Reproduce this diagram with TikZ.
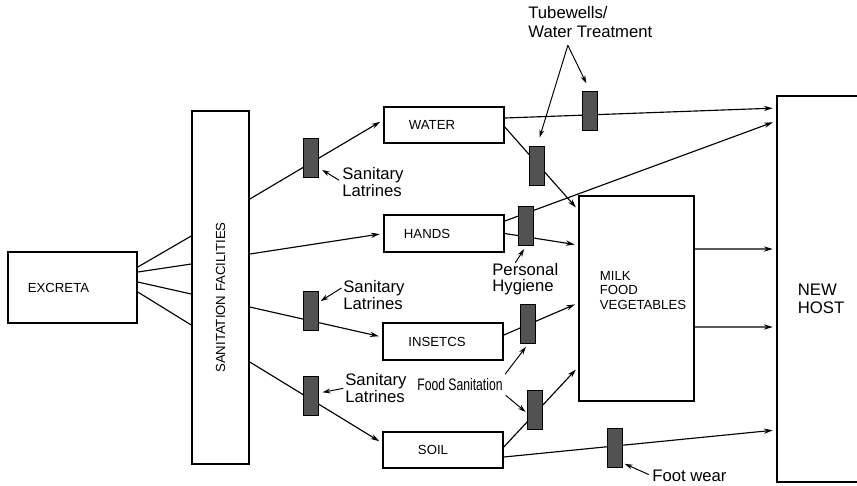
\documentclass[tikz,border=0pt]{standalone}
\usepackage{fontspec}
\setmainfont{Liberation Sans}
\usetikzlibrary{arrows.meta}

\tikzset{
  box/.style={draw, line width=0.9pt, inner sep=0pt},
  lbl/.style={font=\fontsize{7.5}{8.2}\selectfont, inner sep=0pt, align=left},
  gate/.style={draw, line width=0.7pt, fill=black!68, minimum width=0.3cm, minimum height=0.78cm, inner sep=0pt},
  flow/.style={-{Stealth[length=5pt,width=3pt]}, line width=0.65pt, shorten >=2pt},
  ptr/.style={-{Stealth[length=4.5pt,width=2.8pt]}, line width=0.55pt},
  note/.style={font=\fontsize{9.5}{9.2}\selectfont, align=left, inner sep=0pt},
}

\begin{document}
\begin{tikzpicture}[x=0.02cm, y=-0.02cm]
\useasboundingbox (0,0) rectangle (857,485);

% boxes
\node[box, minimum width=2.58cm, minimum height=1.42cm, label={[lbl,xshift=-0.28cm]center:EXCRETA}] (excreta) at (72.5,287.5) {};
\node[box, lbl, minimum width=1.14cm, minimum height=7.06cm] (sanit) at (220.5,287.5) {\rotatebox{90}{SANITATION FACILITIES\hspace*{0.4cm}}};
\node[box, minimum width=2.4cm, minimum height=0.72cm, label={[lbl,xshift=-0.24cm]center:WATER}] (water) at (444,125) {};
\node[box, minimum width=2.4cm, minimum height=0.74cm, label={[lbl,xshift=-0.34cm]center:HANDS}] (hands) at (444,233.5) {};
\node[box, minimum width=2.4cm, minimum height=0.74cm, label={[lbl,xshift=-0.12cm]center:INSETCS}] (insects) at (443,341.5) {};
\node[box, minimum width=2.4cm, minimum height=0.72cm, label={[lbl,xshift=-0.2cm]center:SOIL}] (soil) at (443,450) {};
\node[box, minimum width=2.3cm, minimum height=4.1cm, label={[lbl,xshift=0.13cm,yshift=0.16cm]center:MILK\\FOOD\\VEGETABLES}] (milk) at (636.5,298.5) {};
\node[box, minimum width=1.86cm, minimum height=7.72cm, label={[note,font=\fontsize{9.5}{10.3}\selectfont,xshift=-0.05cm,yshift=-0.19cm]center:NEW\\HOST}] (newhost) at (823.5,289) {};

% excreta to sanitation facilities
\foreach \a/\b in {0.41/1.03, 0.31/0.47, 0.11/-0.13, -0.09/-0.75}
  \draw[line width=0.65pt] ([yshift=\a cm]excreta.east) -- ([yshift=\b cm]sanit.west);

% sanitation facilities to the four routes
\foreach \a/\b/\n in {1.77/0.1/water, 0.67/0/hands, -0.39/0.09/insects, -1.49/0.14/soil}
  \draw[flow] ([yshift=\a cm]sanit.east) -- ([yshift=\b cm]\n.west);

% routes to food and new host
\draw[flow] ([yshift=0.14cm]water.east) -- ([yshift=3.62cm]newhost.west);
\draw[flow] ([yshift=-0.04cm]water.east) -- ([yshift=1.77cm]milk.west);
\draw[flow] ([yshift=0.25cm]hands.east) -- ([yshift=3.36cm]newhost.west);
\draw[flow] (hands.east) -- ([yshift=1.07cm]milk.west);
\draw[flow] ([yshift=0.13cm]insects.east) -- ([yshift=-0.09cm]milk.west);
\draw[flow] ([yshift=0.06cm]soil.east) -- ([yshift=-1.37cm]milk.west);
\draw[flow] ([yshift=-0.14cm]soil.east) -- ([yshift=-2.82cm]newhost.west);
\draw[flow] ([yshift=0.99cm]milk.east) -- ([yshift=0.8cm]newhost.west);
\draw[flow] ([yshift=-0.57cm]milk.east) -- ([yshift=-0.76cm]newhost.west);

% barriers
\foreach \n/\x/\y in {g1/311/158, g2/537/166, g3/526/226, g4/590/111, g5/311/311, g6/311/396, g7/528/324, g8/535/410, g9/615/448}
  \node[gate] (\n) at (\x,\y) {};

% labels
\node[note, font=\fontsize{9.5}{11}\selectfont, anchor=north west] (tube) at (528,6) {Tubewells/\\Water Treatment};
\node[note, anchor=west] (lat1) at (342,182) {Sanitary\\Latrines};
\node[note, anchor=west] (hyg) at (492,279) {Personal\\Hygiene};
\node[note, anchor=west] (lat2) at (343,295) {Sanitary\\Latrines};
\node[note, anchor=west] (lat3) at (345,388) {Sanitary\\Latrines};
\node[note, font=\fontsize{9.5}{9.5}\selectfont, anchor=east] (food) at (503,385) {\scalebox{0.73}[1]{Food Sanitation}};
\node[note, anchor=west] (foot) at (652,476) {Foot wear};

\draw[ptr, shorten >=5pt] ([xshift=-0.45cm,yshift=-0.14cm]tube.south) -- (g2.north);
\draw[ptr, shorten >=4.8pt] ([xshift=-0.45cm,yshift=-0.14cm]tube.south) -- (g4.north);
\draw[ptr, shorten <=2pt, shorten >=2pt] (lat1.west) -- ([yshift=-0.2cm]g1.east);
\draw[ptr, shorten >=2pt] ([xshift=-0.2cm]hyg.north) -- (g3.south);
\draw[ptr, shorten <=1pt, shorten >=1pt] ([yshift=0.16cm]lat2.west) -- ([yshift=0.18cm]g5.east);
\draw[ptr, shorten <=1pt, shorten >=2pt] (lat3.west) -- ([yshift=0.06cm]g6.east);
\draw[ptr, shorten <=2pt, shorten >=2pt] ([yshift=0.16cm]food.east) -- (g7.south);
\draw[ptr, shorten <=2pt, shorten >=1pt] ([yshift=-0.16cm]food.east) -- ([yshift=-0.06cm]g8.west);
\draw[ptr, shorten <=2pt, shorten >=1pt] (foot.west) -- ([yshift=0.1cm]g9.south east);
\end{tikzpicture}
\end{document}
